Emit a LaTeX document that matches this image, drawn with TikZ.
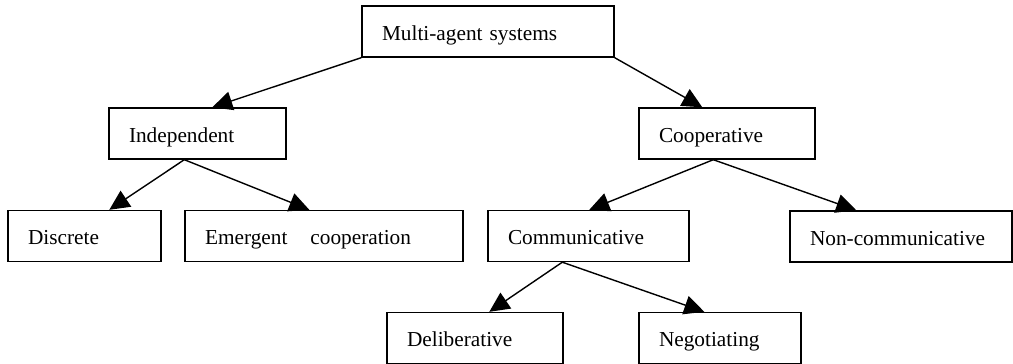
\documentclass[tikz,border=0pt]{standalone}
\usepackage{fontspec}
\setmainfont{Liberation Serif}
\usetikzlibrary{arrows.meta}

\begin{document}
\begin{tikzpicture}[x=1pt,y=-1pt,
  font=\fontsize{21.3}{25}\selectfont,
  box/.style={draw,line width=1.4pt,minimum height=51pt,inner xsep=20pt,inner ysep=0pt,
    text height=17pt,text depth=0pt,align=left},
  arr/.style={line width=1.4pt,-{Triangle[length=20pt,width=19pt]}}]
  \useasboundingbox (0,0) rectangle (1013,364);

  \node[box,text width=212pt] (mas) at (488,31.5) {Multi-agent systems};

  \node[box,text width=137pt] (ind) at (197.5,133.5) {Independent};
  \node[box,text width=136pt] (coop) at (727,133.5) {Cooperative};

  \node[box,text width=113pt] (disc) at (84.5,236) {Discrete};
  \node[box,text width=238pt] (emerg) at (324,236) {Emergent\hspace{23pt}cooperation};
  \node[box,text width=161pt] (comm) at (588.5,236) {Communicative};
  \node[box,text width=182pt] (noncomm) at (901,236.5) {Non-communicative};

  \node[box,text width=136pt] (delib) at (475,338) {Deliberative};
  \node[box,text width=122pt] (negot) at (720,338) {Negotiating};

  \draw[arr] (mas.south west) -- ([xshift=104pt]ind.north west);
  \draw[arr] (mas.south east) -- ([xshift=64pt]coop.north west);
  \draw[arr] ([xshift=76pt]ind.south west) -- ([xshift=102pt]disc.north west);
  \draw[arr] ([xshift=76pt]ind.south west) -- ([xshift=125pt]emerg.north west);
  \draw[arr] ([xshift=75pt]coop.south west) -- ([xshift=102pt]comm.north west);
  \draw[arr] ([xshift=75pt]coop.south west) -- ([xshift=67pt]noncomm.north west);
  \draw[arr] ([xshift=75pt]comm.south west) -- ([xshift=103pt]delib.north west);
  \draw[arr] ([xshift=75pt]comm.south west) -- ([xshift=66pt]negot.north west);
\end{tikzpicture}
\end{document}
